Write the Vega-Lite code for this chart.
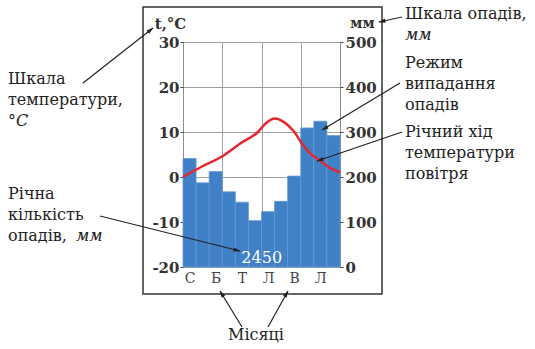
{
  "$schema": "https://vega.github.io/schema/vega-lite/v6.json",
  "width": 157,
  "height": 225,
  "autosize": {"type": "none"},
  "padding": {"left": 183, "top": 42, "right": 195, "bottom": 82},
  "background": "white",
  "datasets": {
    "precip": [
      {"m": 1, "p": 241}, {"m": 2, "p": 187}, {"m": 3, "p": 212}, {"m": 4, "p": 167},
      {"m": 5, "p": 144}, {"m": 6, "p": 103}, {"m": 7, "p": 123}, {"m": 8, "p": 146},
      {"m": 9, "p": 202}, {"m": 10, "p": 309}, {"m": 11, "p": 324}, {"m": 12, "p": 292}
    ],
    "temp": [
      {"pos": 0.5, "t": 0}, {"pos": 1.95, "t": 2.33}, {"pos": 3.48, "t": 4.56}, {"pos": 4.93, "t": 7.56},
      {"pos": 6.23, "t": 10.0}, {"pos": 6.77, "t": 11.78}, {"pos": 7.53, "t": 13.0}, {"pos": 8.22, "t": 12.2},
      {"pos": 8.98, "t": 10.1}, {"pos": 9.67, "t": 7.1}, {"pos": 10.28, "t": 5.1}, {"pos": 10.9, "t": 3.8},
      {"pos": 11.74, "t": 2.0}, {"pos": 12.5, "t": 1.0}
    ]
  },
  "config": {
    "font": "DejaVu Serif",
    "view": {"stroke": "#8c8c8c", "strokeWidth": 1},
    "axis": {"labelFont": "DejaVu Serif", "titleFont": "DejaVu Serif", "gridColor": "#a0a0a0", "gridWidth": 1, "tickColor": "#444", "labelColor": "#333", "titleColor": "#333"}
  },
  "resolve": {"scale": {"x": "independent", "y": "independent"}},
  "layer": [
    {
      "data": {"name": "precip"},
      "mark": {"type": "bar", "width": 13.083, "fill": "#3f80c6", "stroke": "#6399d2", "strokeWidth": 0.8},
      "encoding": {
        "x": {"field": "m", "type": "quantitative", "scale": {"domain": [0.5, 12.5], "nice": false, "zero": false, "padding": 0},
          "axis": {"orient": "bottom", "values": [1,2,3,4,5,6,7,8,9,10,11,12], "labelExpr": "datum.value % 2 == 1 ? ['С','Л','Б','К','Т','Ч','Л','С','В','Ж','Л','Г'][datum.value - 1] : ''", "grid": false, "ticks": false, "tickSize": 0, "domain": false, "labelPadding": 4, "labelFontSize": 14, "labelOverlap": false, "labelFlush": false, "labelColor": "#444", "title": null}},
        "y": {"field": "p", "type": "quantitative", "scale": {"domain": [0, 500], "nice": false},
          "axis": {"orient": "right", "values": [0,100,200,300,400,500], "grid": false, "domain": false, "tickSize": 3, "labelPadding": 2, "labelFontSize": 15, "labelFontWeight": "bold", "title": "мм", "titleAngle": 0, "titleX": 22, "titleY": -15, "titleAlign": "center", "titleBaseline": "alphabetic", "titleFontSize": 14, "titleFontWeight": "bold"}}
      }
    },
    {
      "data": {"name": "temp"},
      "mark": {"type": "line", "color": "#e8262e", "strokeWidth": 2.5, "interpolate": "monotone"},
      "encoding": {
        "x": {"field": "pos", "type": "quantitative", "scale": {"domain": [0.5, 12.5], "nice": false, "zero": false, "padding": 0},
          "axis": {"orient": "top", "values": [3.5, 6.5, 9.5], "grid": true, "labels": false, "ticks": false, "domain": false, "title": null}},
        "y": {"field": "t", "type": "quantitative", "scale": {"domain": [-20, 30], "nice": false, "zero": false},
          "axis": {"orient": "left", "values": [-20,-10,0,10,20,30], "labelExpr": "datum.value + ''", "grid": true, "domain": false, "tickSize": 3, "labelPadding": 1, "labelFontSize": 15, "labelFontWeight": "bold", "title": "t,°C", "titleAngle": 0, "titleX": -13, "titleY": -14, "titleAlign": "center", "titleBaseline": "alphabetic", "titleFontSize": 15, "titleFontWeight": "bold"}}
      }
    },
    {
      "data": {"values": [{}]},
      "layer": [
        {"mark": {"type": "rect", "fill": "transparent", "stroke": "#333", "strokeWidth": 1.5},
         "encoding": {"x": {"datum": -2.557, "axis": null, "scale": {"domain": [0.5, 12.5], "nice": false, "zero": false, "padding": 0}}, "x2": {"datum": 15.711}, "y": {"datum": 37.778, "axis": null, "scale": {"domain": [-20, 30], "nice": false, "zero": false}}, "y2": {"datum": -26}}},

        {"data": {"name": "precip"},
         "mark": {"type": "text", "color": "white", "fontSize": 16, "font": "DejaVu Serif", "align": "center", "baseline": "alphabetic"},
         "encoding": {"x": {"datum": 6.515, "axis": null}, "y": {"datum": -19.18, "axis": null}, "text": {"aggregate": "sum", "field": "p", "type": "quantitative", "format": "d"}}},

        {"mark": {"type": "rule", "color": "#222", "strokeWidth": 1.2},
         "encoding": {"x": {"datum": -7.143, "axis": null}, "y": {"datum": 20.889, "axis": null}, "x2": {"datum": -1.793}, "y2": {"datum": 33.111}}},
        {"mark": {"type": "point", "shape": "M0,-1L0.6,1L-0.6,1Z", "filled": true, "color": "#222", "opacity": 1, "size": 49, "angle": 51.8},
         "encoding": {"x": {"datum": -1.976, "axis": null}, "y": {"datum": 32.69, "axis": null}}},

        {"mark": {"type": "rule", "color": "#222", "strokeWidth": 1.2},
         "encoding": {"x": {"datum": -5.844, "axis": null}, "y": {"datum": -8.667, "axis": null}, "x2": {"datum": 4.857}, "y2": {"datum": -16.444}}},
        {"mark": {"type": "point", "shape": "M0,-1L0.6,1L-0.6,1Z", "filled": true, "color": "#222", "opacity": 1, "size": 49, "angle": 104},
         "encoding": {"x": {"datum": 4.635, "axis": null}, "y": {"datum": -16.289, "axis": null}}},

        {"mark": {"type": "rule", "color": "#222", "strokeWidth": 1.2},
         "encoding": {"x": {"datum": 17.239, "axis": null}, "y": {"datum": 35.556, "axis": null}, "x2": {"datum": 15.481}, "y2": {"datum": 34.444}}},
        {"mark": {"type": "point", "shape": "M0,-1L0.6,1L-0.6,1Z", "filled": true, "color": "#222", "opacity": 1, "size": 49, "angle": 257.7},
         "encoding": {"x": {"datum": 15.703, "axis": null}, "y": {"datum": 34.578, "axis": null}}},

        {"mark": {"type": "rule", "color": "#222", "strokeWidth": 1.2},
         "encoding": {"x": {"datum": 17.086, "axis": null}, "y": {"datum": 20.889, "axis": null}, "x2": {"datum": 11.124}, "y2": {"datum": 10.444}}},
        {"mark": {"type": "point", "shape": "M0,-1L0.6,1L-0.6,1Z", "filled": true, "color": "#222", "opacity": 1, "size": 49, "angle": 238.9},
         "encoding": {"x": {"datum": 11.323, "axis": null}, "y": {"datum": 10.778, "axis": null}}},

        {"mark": {"type": "rule", "color": "#222", "strokeWidth": 1.2},
         "encoding": {"x": {"datum": 17.239, "axis": null}, "y": {"datum": 10, "axis": null}, "x2": {"datum": 10.742}, "y2": {"datum": 3.556}}},
        {"mark": {"type": "point", "shape": "M0,-1L0.6,1L-0.6,1Z", "filled": true, "color": "#222", "opacity": 1, "size": 49, "angle": 251.2},
         "encoding": {"x": {"datum": 10.956, "axis": null}, "y": {"datum": 3.778, "axis": null}}},

        {"mark": {"type": "rule", "color": "#222", "strokeWidth": 1.2},
         "encoding": {"x": {"datum": 5.010, "axis": null}, "y": {"datum": -33.333, "axis": null}, "x2": {"datum": 3.328}, "y2": {"datum": -25.333}}},
        {"mark": {"type": "point", "shape": "M0,-1L0.6,1L-0.6,1Z", "filled": true, "color": "#222", "opacity": 1, "size": 49, "angle": 328.6},
         "encoding": {"x": {"datum": 3.450, "axis": null}, "y": {"datum": -25.911, "axis": null}}},

        {"mark": {"type": "rule", "color": "#222", "strokeWidth": 1.2},
         "encoding": {"x": {"datum": 6.997, "axis": null}, "y": {"datum": -33.333, "axis": null}, "x2": {"datum": 8.526}, "y2": {"datum": -25.333}}},
        {"mark": {"type": "point", "shape": "M0,-1L0.6,1L-0.6,1Z", "filled": true, "color": "#222", "opacity": 1, "size": 49, "angle": 29.1},
         "encoding": {"x": {"datum": 8.411, "axis": null}, "y": {"datum": -25.911, "axis": null}}},

        {"mark": {"type": "text", "font": "DejaVu Serif", "align": "left", "baseline": "alphabetic", "fontSize": 16, "lineHeight": 21, "color": "#222"},
         "encoding": {"x": {"datum": -12.876, "axis": null}, "y": {"datum": 20.667, "axis": null}, "text": {"value": ["Шкала", "температури,"]}}},
        {"mark": {"type": "text", "font": "DejaVu Serif", "align": "left", "baseline": "alphabetic", "fontSize": 16, "fontStyle": "italic", "color": "#222"},
         "encoding": {"x": {"datum": -12.876, "axis": null}, "y": {"datum": 11.333, "axis": null}, "text": {"value": "°C"}}},
        {"mark": {"type": "text", "font": "DejaVu Serif", "align": "left", "baseline": "alphabetic", "fontSize": 16, "lineHeight": 21, "color": "#222"},
         "encoding": {"x": {"datum": -12.876, "axis": null}, "y": {"datum": -4.889, "axis": null}, "text": {"value": ["Річна", "кількість", "опадів,"]}}},
        {"mark": {"type": "text", "font": "DejaVu Serif", "align": "left", "baseline": "alphabetic", "fontSize": 16, "fontStyle": "italic", "color": "#222"},
         "encoding": {"x": {"datum": -7.679, "axis": null}, "y": {"datum": -14.222, "axis": null}, "text": {"value": "мм"}}},
        {"mark": {"type": "text", "font": "DejaVu Serif", "align": "left", "baseline": "alphabetic", "fontSize": 16, "color": "#222"},
         "encoding": {"x": {"datum": 17.468, "axis": null}, "y": {"datum": 35.111, "axis": null}, "text": {"value": "Шкала опадів,"}}},
        {"mark": {"type": "text", "font": "DejaVu Serif", "align": "left", "baseline": "alphabetic", "fontSize": 16, "fontStyle": "italic", "color": "#222"},
         "encoding": {"x": {"datum": 17.468, "axis": null}, "y": {"datum": 30.444, "axis": null}, "text": {"value": "мм"}}},
        {"mark": {"type": "text", "font": "DejaVu Serif", "align": "left", "baseline": "alphabetic", "fontSize": 16, "lineHeight": 21, "color": "#222"},
         "encoding": {"x": {"datum": 17.468, "axis": null}, "y": {"datum": 24.222, "axis": null}, "text": {"value": ["Режим", "випадання", "опадів"]}}},
        {"mark": {"type": "text", "font": "DejaVu Serif", "align": "left", "baseline": "alphabetic", "fontSize": 16, "lineHeight": 21, "color": "#222"},
         "encoding": {"x": {"datum": 17.468, "axis": null}, "y": {"datum": 8.889, "axis": null}, "text": {"value": ["Річний хід", "температури", "повітря"]}}},
        {"mark": {"type": "text", "font": "DejaVu Serif", "align": "center", "baseline": "alphabetic", "fontSize": 16, "color": "#222"},
         "encoding": {"x": {"datum": 6.08, "axis": null}, "y": {"datum": -36.222, "axis": null}, "text": {"value": "Місяці"}}}
      ]
    }
  ]
}
